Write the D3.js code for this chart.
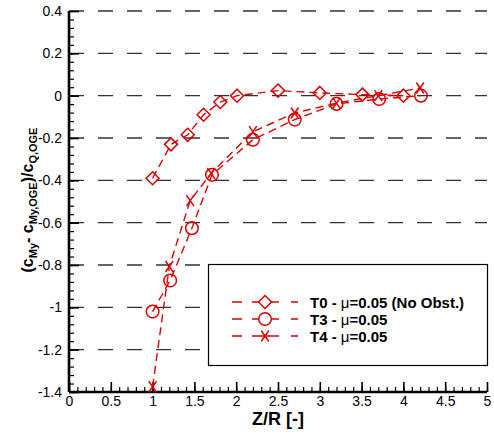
<!DOCTYPE html>
<html>
<head>
<meta charset="utf-8">
<script src="https://cdn.jsdelivr.net/npm/d3@7"></script>
<style>
  body { margin: 0; background: #fff; }
  text { font-family: "Liberation Sans", Arial, Helvetica, sans-serif; }
</style>
</head>
<body>
<div id="chart"></div>
<script>
// series
var t0X = [1.0, 1.22, 1.42, 1.61, 1.81, 2.01, 2.5, 3.0, 3.51, 4.0];
var t0Y = [-0.39, -0.23, -0.185, -0.09, -0.03, 0.0, 0.024, 0.013, 0.005, 0.0];
var t3X = [1.0, 1.21, 1.47, 1.71, 2.2, 2.7, 3.2, 3.71, 4.21];
var t3Y = [-1.02, -0.873, -0.626, -0.374, -0.208, -0.113, -0.039, -0.016, 0.0];
var t4X = [1.0, 1.2, 1.45, 1.7, 2.2, 2.7, 3.2, 3.7, 4.2];
var t4Y = [-1.375, -0.807, -0.496, -0.367, -0.17, -0.082, -0.035, 0.0, 0.036];
var seriesNames = ["T0 - ", "T3 - ", "T4 - "];
var seriesSuffix = ["=0.05 (No Obst.)", "=0.05", "=0.05"];
var seriesMarkers = ["diamond", "circle", "cross"];
var xTicks = [0, 0.5, 1, 1.5, 2, 2.5, 3, 3.5, 4, 4.5, 5];
var yTicks = [0.4, 0.2, 0, -0.2, -0.4, -0.6, -0.8, -1, -1.2, -1.4];

var width = 494;
var height = 435;
var red = "#dc0000";

var svg = d3.select("#chart").append("svg")
  .attr("width", width)
  .attr("height", height);

var x = d3.scaleLinear().domain([0, 5]).range([69, 487]);
var y = d3.scaleLinear().domain([-1.4, 0.4]).range([392, 11]);

// dashed horizontal grid
svg.append("g")
  .selectAll("line")
  .data(yTicks.filter(function (d) { return d > -1.4; }))
  .enter()
  .append("line")
  .attr("x1", x(0))
  .attr("x2", x(5))
  .attr("y1", function (d) { return y(d); })
  .attr("y2", function (d) { return y(d); })
  .attr("stroke", "#333")
  .attr("stroke-width", 1.4)
  .attr("stroke-dasharray", "15,14");

// minor ticks
var minorX = d3.range(0, 51).map(function (i) { return i / 10; });
var minorY = d3.range(0, 46).map(function (i) { return -1.4 + i * 0.04; });

svg.append("g")
  .attr("transform", "translate(0," + y(-1.4) + ")")
  .call(d3.axisBottom(x).tickValues(minorX).tickSize(-5).tickFormat(""))
  .call(function (g) { g.select(".domain").remove(); })
  .selectAll("line").attr("stroke-width", 1.2);

svg.append("g")
  .attr("transform", "translate(" + x(0) + ",0)")
  .call(d3.axisLeft(y).tickValues(minorY).tickSize(-5).tickFormat(""))
  .call(function (g) { g.select(".domain").remove(); })
  .selectAll("line").attr("stroke-width", 1.2);

// major axes
var xAxis = svg.append("g")
  .attr("transform", "translate(0," + y(-1.4) + ")")
  .call(d3.axisBottom(x).tickValues(xTicks).tickSize(-10).tickPadding(4)
    .tickFormat(function (d) { return String(d); }));
xAxis.select(".domain").attr("stroke-width", 2.6).attr("d", "M" + x(0) + ",0H" + x(5));
xAxis.selectAll(".tick line").attr("stroke-width", 1.6);
xAxis.selectAll("text").attr("font-size", 14).attr("fill", "#000")
  .style("font-family", "'Liberation Sans', Arial, sans-serif");

var yAxis = svg.append("g")
  .attr("transform", "translate(" + x(0) + ",0)")
  .call(d3.axisLeft(y).tickValues(yTicks).tickSize(-10).tickPadding(7)
    .tickFormat(function (d) { return String(d); }));
yAxis.select(".domain").attr("stroke-width", 2.6).attr("d", "M0," + y(0.4) + "V" + y(-1.4));
yAxis.selectAll(".tick line").attr("stroke-width", 1.6);
yAxis.selectAll("text").attr("font-size", 14).attr("fill", "#000")
  .style("font-family", "'Liberation Sans', Arial, sans-serif");

// marker paths
function markerPath(type) {
  if (type == "diamond") return "M0,-6.5L6.5,0L0,6.5L-6.5,0Z";
  if (type == "circle") return d3.arc()({ innerRadius: 0, outerRadius: 6.3, startAngle: 0, endAngle: 2 * Math.PI });
  return "M-3.8,-5.5L3.8,5.5M3.8,-5.5L-3.8,5.5";
}

var allSeries = [
  { xs: t0X, ys: t0Y, marker: seriesMarkers[0] },
  { xs: t3X, ys: t3Y, marker: seriesMarkers[1] },
  { xs: t4X, ys: t4Y, marker: seriesMarkers[2] }
];

var line = d3.line()
  .x(function (d) { return x(d[0]); })
  .y(function (d) { return y(d[1]); });

allSeries.forEach(function (s) {
  var pts = s.xs.map(function (v, i) { return [v, s.ys[i]]; });
  svg.append("path")
    .datum(pts)
    .attr("d", line)
    .attr("fill", "none")
    .attr("stroke", red)
    .attr("stroke-width", 1.4)
    .attr("stroke-dasharray", "8,5");

  svg.append("g")
    .selectAll("path")
    .data(pts)
    .enter()
    .append("path")
    .attr("transform", function (d) { return "translate(" + x(d[0]) + "," + y(d[1]) + ")"; })
    .attr("d", markerPath(s.marker))
    .attr("fill", "none")
    .attr("stroke", red)
    .attr("stroke-width", 1.5);
});

// legend
var legend = svg.append("g");
legend.append("rect")
  .attr("x", 208.5)
  .attr("y", 264.5)
  .attr("width", 279)
  .attr("height", 101)
  .attr("fill", "#fff")
  .attr("stroke", "#000")
  .attr("stroke-width", 1.2);

seriesNames.forEach(function (name, i) {
  var ly = 302 + i * 17;
  legend.append("line")
    .attr("x1", 232).attr("x2", 298)
    .attr("y1", ly).attr("y2", ly)
    .attr("stroke", red)
    .attr("stroke-width", 1.4)
    .attr("stroke-dasharray", "10,10,27,12,10");
  legend.append("path")
    .attr("transform", "translate(265," + ly + ")")
    .attr("d", markerPath(seriesMarkers[i]))
    .attr("fill", "#fff")
    .attr("stroke", red)
    .attr("stroke-width", 1.5);
  var t = legend.append("text")
    .attr("x", 310)
    .attr("y", ly + 5.5)
    .attr("font-size", 15)
    .attr("font-weight", "bold");
  t.append("tspan").text(name);
  t.append("tspan").attr("font-weight", "normal").text("\u03bc");
  t.append("tspan").text(seriesSuffix[i]);
});

// axis titles
svg.append("text")
  .attr("x", 278)
  .attr("y", 425)
  .attr("text-anchor", "middle")
  .attr("font-size", 18)
  .attr("font-weight", "bold")
  .text("Z/R [-]");

var yl = svg.append("text")
  .attr("transform", "translate(33,200) rotate(-90)")
  .attr("text-anchor", "middle")
  .attr("font-size", 16)
  .attr("font-weight", "bold");
[["(c", ""], ["My", "sub"], ["- c", ""], ["My,OGE", "sub"], [")/c", ""], ["Q,OGE", "sub"]].forEach(function (p) {
  var ts = yl.append("tspan").text(p[0]);
  if (p[1] == "sub") ts.attr("font-size", 11).attr("dy", 4);
  else ts.attr("dy", yl.selectAll("tspan").size() > 1 ? -4 : 0);
});
</script>
</body>
</html>
